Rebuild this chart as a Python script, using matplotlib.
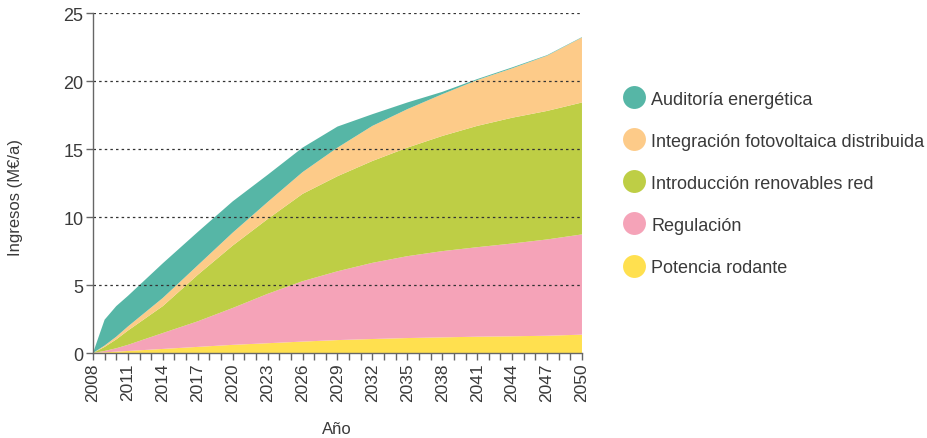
import matplotlib
matplotlib.use("Agg")
import matplotlib.pyplot as plt
from matplotlib.lines import Line2D

# ----------------------------------------------------------------------------
# DATA (M EUR / year, stacked layers)
# ----------------------------------------------------------------------------
years = [2008, 2009, 2010, 2011, 2014, 2017, 2020, 2023, 2026,
         2029, 2032, 2035, 2038, 2041, 2044, 2047, 2050]

potencia = [0, 0.05, 0.10, 0.15, 0.30, 0.45, 0.60, 0.72, 0.84,
            0.95, 1.03, 1.10, 1.15, 1.20, 1.23, 1.27, 1.35]
regulacion = [0, 0.10, 0.25, 0.45, 1.17, 1.88, 2.71, 3.63, 4.44,
              5.06, 5.60, 6.02, 6.34, 6.58, 6.82, 7.08, 7.37]
renovables = [0, 0.30, 0.65, 1.05, 1.98, 3.42, 4.59, 5.50, 6.42,
              6.99, 7.49, 7.98, 8.47, 8.92, 9.25, 9.45, 9.70]
fotovoltaica = [0, 0.10, 0.20, 0.30, 0.60, 0.70, 0.95, 1.25, 1.60,
                2.10, 2.58, 2.83, 3.07, 3.37, 3.63, 4.06, 4.78]
auditoria = [0, 1.90, 2.25, 2.25, 2.55, 2.45, 2.30, 2.00, 1.80,
             1.55, 0.86, 0.49, 0.17, 0.07, 0.07, 0.04, 0.03]

labels = ['Potencia rodante', 'Regulación', 'Introducción renovables red',
          'Integración fotovoltaica distribuida', 'Auditoría energética']
colors = ['#FFE04F', '#F5A3B8', '#BECE45', '#FDCB89', '#56B6A6']

x_labels = list(range(2008, 2051, 3))
x_minor = list(range(2008, 2051))
y_ticks = [0, 5, 10, 15, 20, 25]

# ----------------------------------------------------------------------------
# PLOT
# ----------------------------------------------------------------------------
plt.rcParams['font.family'] = ['Liberation Sans', 'DejaVu Sans']
text_color = '#3a3a3a'
axis_color = '#666666'

fig = plt.figure(figsize=(9.27, 4.39), dpi=100)
ax = fig.add_axes([0.1003, 0.1936, 0.5275, 0.7745])

ax.stackplot(years, potencia, regulacion, renovables, fotovoltaica, auditoria,
             colors=colors, linewidth=0)

ax.set_xlim(2008, 2050)
ax.set_ylim(0, 25)
ax.set_yticks(y_ticks)
ax.set_xticks(x_labels)
ax.set_xticks(x_minor, minor=True)

# dotted guide lines, drawn over the areas
for y in y_ticks[1:]:
    ax.axhline(y, color='#333333', linestyle=(0, (2, 2.5)), linewidth=0.9, zorder=3)

for side in ['top', 'right']:
    ax.spines[side].set_visible(False)
for side in ['left', 'bottom']:
    ax.spines[side].set_color(axis_color)
    ax.spines[side].set_linewidth(1.0)
    ax.spines[side].set_zorder(4)

ax.tick_params(axis='x', which='both', direction='out', length=5, width=1,
               color=axis_color, labelsize=12.5, labelcolor=text_color,
               labelrotation=90, pad=2)
ax.tick_params(axis='y', direction='out', length=5, width=1,
               color=axis_color, labelsize=13, labelcolor=text_color, pad=2)

ax.set_xlabel('Año', fontsize=12, color=text_color)
ax.set_ylabel('Ingresos (M€/a)', fontsize=12, color=text_color)
ax.xaxis.set_label_coords(0.499, -0.2)
ax.yaxis.set_label_coords(-0.143, 0.46)

# legend: circles, top layer first
handles = [Line2D([0], [0], marker='o', linestyle='none', markersize=16.5,
                  markerfacecolor=c, markeredgecolor='none')
           for c in colors[::-1]]
leg = fig.legend(handles, labels[::-1], loc='upper left',
                 bbox_to_anchor=(0.6665, 0.808), frameon=False,
                 fontsize=13, labelspacing=1.39, handlelength=1.0,
                 handletextpad=0.44, borderaxespad=0)
for t in leg.get_texts():
    t.set_color(text_color)

plt.savefig('out.png', dpi=100)
plt.close()
